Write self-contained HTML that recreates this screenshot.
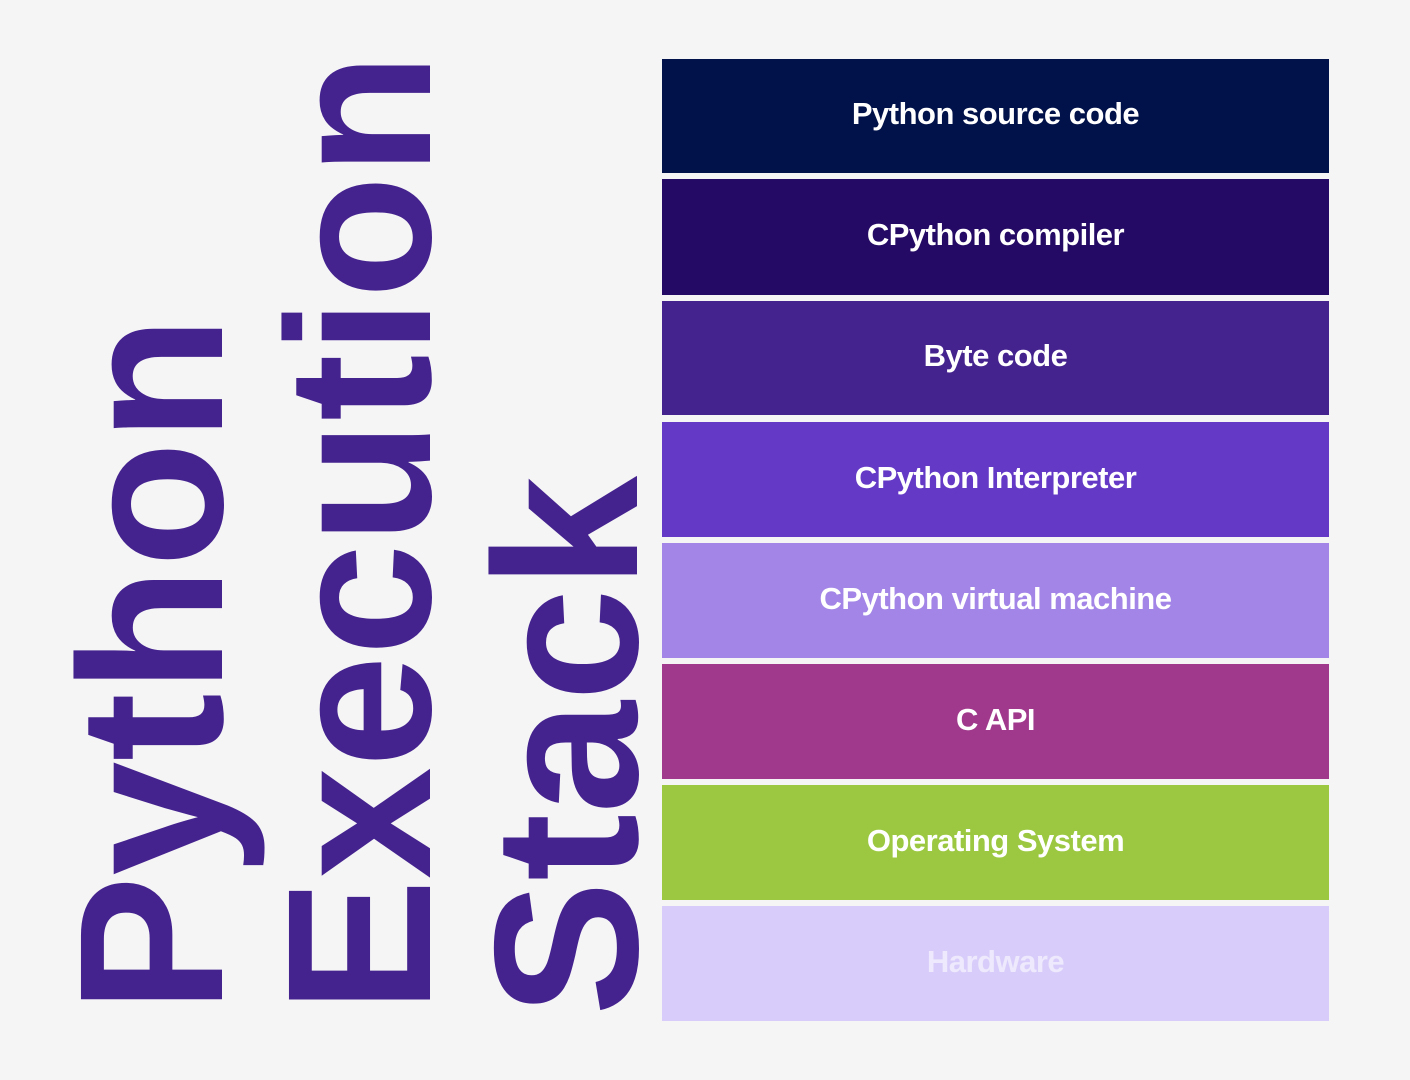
<!DOCTYPE html>
<html><head><meta charset="utf-8"><style>
html,body{margin:0;padding:0;background:#f5f5f5;}
body{width:1410px;height:1080px;position:relative;overflow:hidden;font-family:"Liberation Sans",sans-serif;}
.b{position:absolute;left:662px;width:667px;height:115px;display:flex;align-items:center;justify-content:center;color:#fff;font-weight:bold;font-size:31px;letter-spacing:-0.5px;padding-bottom:4px;box-sizing:border-box;}
svg{position:absolute;left:0;top:0;}
</style></head><body>
<svg width="1410" height="1080">
<g fill="#45238f" font-family="Liberation Sans, sans-serif" font-weight="bold" font-size="205">
<text transform="translate(222,1013) rotate(-90)" textLength="697" lengthAdjust="spacingAndGlyphs">Python</text>
<text transform="translate(430,1013) rotate(-90)" textLength="960" lengthAdjust="spacingAndGlyphs">Execution</text>
<text transform="translate(637,1016) rotate(-90)" textLength="540" lengthAdjust="spacingAndGlyphs">Stack</text>
</g>
</svg>
<div class="b" style="top:59px;height:114px;background:#011149">Python source code</div>
<div class="b" style="top:179px;height:116px;background:#240a64">CPython compiler</div>
<div class="b" style="top:301px;height:114px;background:#45238f">Byte code</div>
<div class="b" style="top:422px;background:#6439c6">CPython Interpreter</div>
<div class="b" style="top:543px;background:#a285e6">CPython virtual machine</div>
<div class="b" style="top:664px;background:#a0388b">C API</div>
<div class="b" style="top:785px;background:#9bc840">Operating System</div>
<div class="b" style="top:906px;background:#d8cdfa;color:#eee9fc">Hardware</div>
</body></html>
